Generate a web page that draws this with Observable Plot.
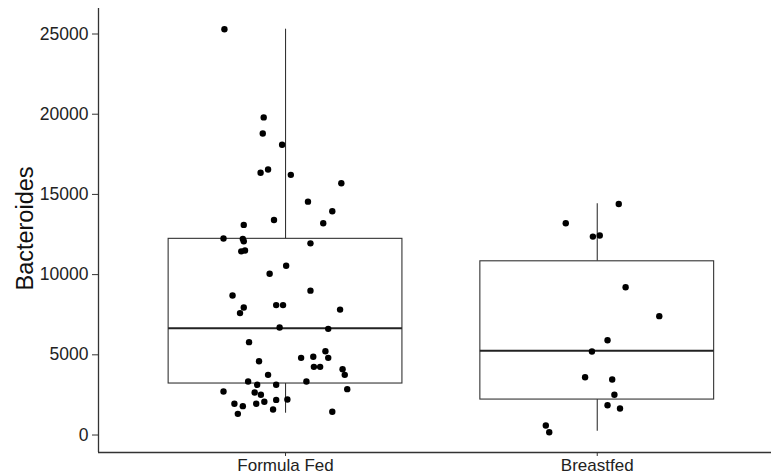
<!DOCTYPE html>
<html>
<head>
<meta charset="utf-8">
<script src="https://cdn.jsdelivr.net/npm/d3@7"></script>
<script src="https://cdn.jsdelivr.net/npm/@observablehq/plot@0.6"></script>
<style>
  html, body { margin: 0; padding: 0; background: #fff; }
  #chart svg { display: block; font-family: "Liberation Sans", Arial, sans-serif; }
</style>
</head>
<body>
<div id="chart"></div>
<script>
// ---- data ----
const categories = ["Formula Fed", "Breastfed"];
const yTicks = [0, 5000, 10000, 15000, 20000, 25000];
const yLabel = "Bacteroides";

// box statistics per category
const boxLower  = [1360, 240];
const boxQ1     = [3210, 2210];
const boxMedian = [6660, 5250];
const boxQ3     = [12230, 10830];
const boxUpper  = [25300, 14410];

// jittered observations: values and horizontal jitter offsets (category units)
const formulaValues = [25300, 19800, 18800, 18100, 16350, 16550, 16220, 15700, 14550, 13950,
  13100, 13400, 13200, 12250, 12230, 12080, 11450, 11500, 11950, 10550,
  10050, 8700, 9000, 8100, 8100, 7950, 7600, 7820, 6700, 6620,
  5790, 5220, 4810, 4880, 4810, 4600, 4250, 4250, 4100, 3750,
  3750, 3340, 3130, 3130, 3340, 2860, 2710, 2650, 2510, 2190,
  2210, 2070, 1950, 1950, 1800, 1590, 1450, 1320];
const formulaJitter = [-0.196, -0.070, -0.073, -0.011, -0.080, -0.056, 0.017, 0.179, 0.072, 0.150,
  -0.134, -0.037, 0.121, -0.199, -0.137, -0.134, -0.142, -0.130, 0.080, 0.002,
  -0.051, -0.170, 0.080, -0.030, -0.008, -0.134, -0.146, 0.175, -0.019, 0.137,
  -0.117, 0.128, 0.050, 0.089, 0.137, -0.085, 0.091, 0.111, 0.183, 0.190,
  -0.056, -0.120, -0.091, -0.030, 0.067, 0.198, -0.199, -0.099, -0.079, -0.030,
  0.006, -0.068, -0.164, -0.094, -0.137, -0.040, 0.150, -0.153];
const breastValues = [14400, 13200, 12370, 12440, 9210, 7410, 5910, 5210, 3600, 3460,
  2510, 1860, 1650, 590, 175];
const breastJitter = [0.069, -0.101, -0.014, 0.008, 0.091, 0.199, 0.033, -0.017, -0.039, 0.048,
  0.055, 0.033, 0.073, -0.165, -0.154];

// ---- tables built from the arrays ----
const boxes = categories.map((c, i) => ({
  cat: c, pos: i + 1,
  lower: boxLower[i], q1: boxQ1[i], median: boxMedian[i], q3: boxQ3[i], upper: boxUpper[i]
}));
const points = [
  ...formulaValues.map((v, i) => ({pos: 1 + formulaJitter[i], value: v})),
  ...breastValues.map((v, i) => ({pos: 2 + breastJitter[i], value: v}))
];

const halfWidth = 0.375;
const stroke = "#333";

const chart = Plot.plot({
  width: 771,
  height: 476,
  marginTop: 8,
  marginBottom: 24,
  marginLeft: 98,
  marginRight: 0,
  style: {fontFamily: "'Liberation Sans', Arial, sans-serif", background: "#fff"},
  x: {type: "linear", domain: [0.4, 2.559], axis: null},
  y: {domain: [-1090, 26590], axis: null},
  marks: [
    // axis lines
    Plot.ruleX([0.4], {stroke: "#333", strokeWidth: 1.3}),
    Plot.ruleY([-1090], {stroke: "#333", strokeWidth: 1.3}),
    Plot.axisY({
      ticks: yTicks, tickFormat: d => String(d), tickSize: 6, tickPadding: 4,
      fontSize: 17.5, color: "#222", stroke: "#333", label: null
    }),
    Plot.axisX({
      ticks: [1, 2], tickFormat: d => categories[d - 1], tickSize: 4, tickPadding: 2.5,
      fontSize: 17, color: "#222", stroke: "#333", label: null
    }),
    // whiskers
    Plot.ruleX(boxes, {x: "pos", y1: "q3", y2: "upper", stroke, strokeWidth: 1.1}),
    Plot.ruleX(boxes, {x: "pos", y1: "lower", y2: "q1", stroke, strokeWidth: 1.1}),
    // boxes
    Plot.rect(boxes, {
      x1: d => d.pos - halfWidth, x2: d => d.pos + halfWidth, y1: "q1", y2: "q3",
      fill: "white", stroke, strokeWidth: 1.1
    }),
    // medians
    Plot.ruleY(boxes, {
      y: "median", x1: d => d.pos - halfWidth, x2: d => d.pos + halfWidth,
      stroke: "#222", strokeWidth: 2
    }),
    // jittered points
    Plot.dot(points, {x: "pos", y: "value", r: 3.2, fill: "black", stroke: "none"}),
    // y label
    Plot.text([yLabel], {
      frameAnchor: "left", dx: -73, dy: -2, rotate: -90, textAnchor: "middle",
      fontSize: 23.5, fill: "#111", text: d => d
    })
  ]
});
document.getElementById("chart").appendChild(chart);
</script>
</body>
</html>
